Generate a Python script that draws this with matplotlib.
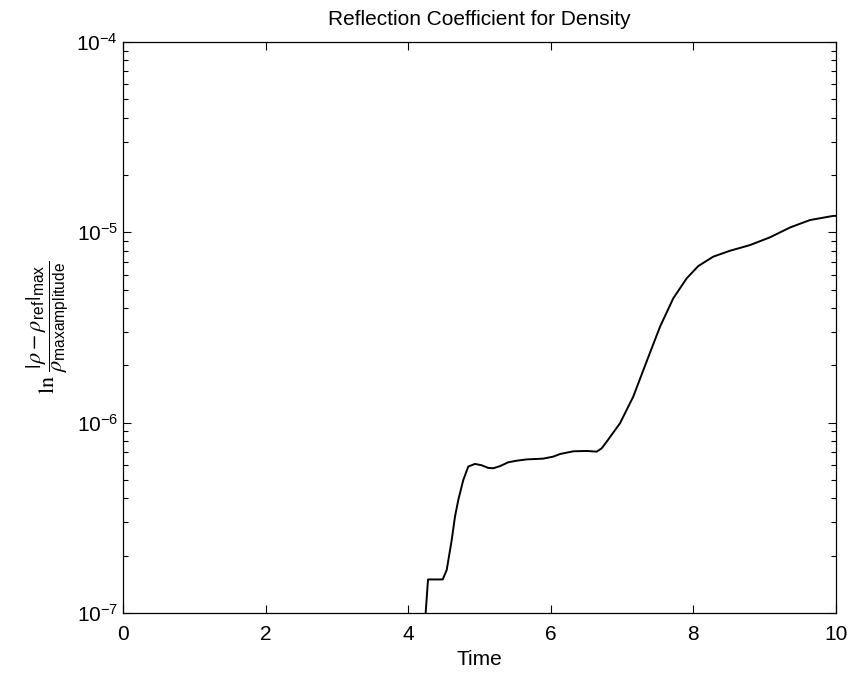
import matplotlib
matplotlib.use("Agg")
import matplotlib.pyplot as plt
from matplotlib.ticker import LogLocator, NullFormatter

plt.rcParams['font.family'] = ['Liberation Sans', 'DejaVu Sans']
plt.rcParams['mathtext.fontset'] = 'custom'
plt.rcParams['mathtext.rm'] = 'STIXGeneral'
plt.rcParams['mathtext.it'] = 'STIXGeneral:italic'
plt.rcParams['mathtext.bf'] = 'STIXGeneral:bold'
plt.rcParams['mathtext.sf'] = 'Liberation Sans'

# Curve (time, reflection coefficient)
time = [4.23, 4.245, 4.278, 4.484, 4.540, 4.610, 4.656, 4.703, 4.773, 4.843,
        4.937, 5.031, 5.124, 5.193, 5.288, 5.404, 5.522, 5.662, 5.895, 6.035,
        6.129, 6.316, 6.504, 6.644, 6.714, 6.784, 6.971, 7.157, 7.345, 7.532,
        7.718, 7.906, 8.069, 8.279, 8.513, 8.794, 9.074, 9.355, 9.635, 9.962,
        10.0]
coeff = [9.0e-8, 1.0e-7, 1.50e-7, 1.50e-7, 1.68e-7, 2.41e-7, 3.2e-7, 3.93e-7, 5.00e-7, 5.88e-7,
         6.07e-7, 5.97e-7, 5.78e-7, 5.76e-7, 5.91e-7, 6.19e-7, 6.31e-7, 6.41e-7, 6.47e-7, 6.63e-7,
         6.84e-7, 7.07e-7, 7.10e-7, 7.04e-7, 7.33e-7, 7.94e-7, 9.93e-7, 1.37e-6, 2.10e-6, 3.19e-6,
         4.50e-6, 5.73e-6, 6.65e-6, 7.45e-6, 8.00e-6, 8.57e-6, 9.41e-6, 1.06e-5, 1.16e-5, 1.22e-5,
         1.22e-5]

fig = plt.figure(figsize=(8.5, 6.73), dpi=100)
ax = fig.add_axes([0.1447, 0.0892, 0.8388, 0.8484])

ax.plot(time, coeff, color='black', linewidth=1.4)

ax.set_yscale('log')
ax.set_xlim(0, 10)
ax.set_ylim(1e-7, 1e-4)
ax.set_xticks([0, 2, 4, 6, 8, 10])
ax.yaxis.set_major_locator(LogLocator(base=10, numticks=10))
ax.yaxis.set_minor_locator(LogLocator(base=10, subs=range(2, 10), numticks=20))
ax.yaxis.set_minor_formatter(NullFormatter())

ax.tick_params(which='both', direction='in', top=True, right=True, width=0.8)
ax.tick_params(which='major', length=6, labelsize=15)
ax.tick_params(axis='x', which='major', pad=9)
ax.tick_params(which='minor', length=3.5)
for s in ax.spines.values():
    s.set_linewidth(0.9)

ax.set_title("Reflection Coefficient for Density", fontsize=15, pad=12)
ax.set_xlabel("Time", fontsize=15, labelpad=4)
ax.set_ylabel(r'$\ln\,\dfrac{|\rho - \rho_{\mathsf{ref}}|_{\mathsf{max}}}{\rho_{\mathsf{maxamplitude}}}$',
              fontsize=16, labelpad=4)

fig.savefig("out.png", dpi=100)
